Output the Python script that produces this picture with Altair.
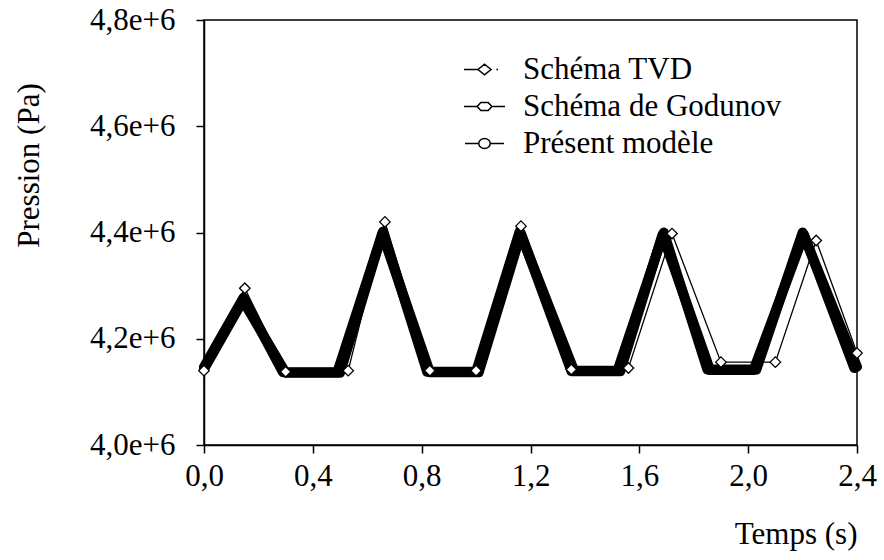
import altair as alt
import pandas as pd

# Pressure (Pa) versus time (s) for the three schemes
series_names = ["Schéma TVD", "Schéma de Godunov", "Présent modèle"]

t_tvd = [0.00, 0.15, 0.30, 0.53, 0.665, 0.83, 1.00, 1.165, 1.35, 1.56, 1.72, 1.90, 2.10, 2.25, 2.40]
p_tvd = [4.140e6, 4.295e6, 4.138e6, 4.140e6, 4.420e6, 4.140e6, 4.140e6, 4.412e6, 4.142e6,
         4.145e6, 4.398e6, 4.156e6, 4.156e6, 4.385e6, 4.173e6]

t_god = [0.00, 0.145, 0.29, 0.49, 0.658, 0.82, 1.00, 1.16, 1.36, 1.52, 1.69, 1.85, 2.03, 2.20, 2.40]
p_god = [4.147e6, 4.277e6, 4.137e6, 4.137e6, 4.402e6, 4.138e6, 4.138e6, 4.402e6, 4.140e6,
         4.140e6, 4.400e6, 4.142e6, 4.142e6, 4.400e6, 4.147e6]

t_pm = [0.00, 0.143, 0.30, 0.50, 0.655, 0.83, 1.01, 1.165, 1.35, 1.53, 1.685, 1.86, 2.02, 2.205, 2.39]
p_pm = [4.143e6, 4.272e6, 4.136e6, 4.136e6, 4.398e6, 4.137e6, 4.137e6, 4.398e6, 4.139e6,
        4.139e6, 4.396e6, 4.141e6, 4.141e6, 4.396e6, 4.145e6]

x_ticks = [0.0, 0.4, 0.8, 1.2, 1.6, 2.0, 2.4]
y_ticks = [4.0e6, 4.2e6, 4.4e6, 4.6e6, 4.8e6]

frames = []
for name, ts, ps in zip(series_names, [t_tvd, t_god, t_pm], [p_tvd, p_god, p_pm]):
    frames.append(pd.DataFrame({"t": ts, "p": ps, "serie": name, "ordre": range(len(ts))}))
df = pd.concat(frames, ignore_index=True)

FONT = "Liberation Serif"
FS = 31

x_enc = alt.X(
    "t:Q",
    scale=alt.Scale(domain=[0, 2.4], nice=False, zero=False),
    axis=alt.Axis(
        values=x_ticks,
        labelExpr="replace(format(datum.value, '.1f'), '.', ',')",
        labelFlush=False,
        labelPadding=8,
        title="Temps (s)",
        titleX=653,
        titleY=98,
        titleAlign="right",
        titleBaseline="alphabetic",
    ),
)
y_enc = alt.Y(
    "p:Q",
    scale=alt.Scale(domain=[4.0e6, 4.8e6], nice=False, zero=False),
    axis=alt.Axis(
        values=y_ticks,
        labelExpr="replace(format(datum.value / 1e6, '.1f'), '.', ',') + 'e+6'",
        labelFlush=False,
        labelPadding=21,
        title="Pression (Pa)",
        titleAngle=-90,
        titleX=-175,
        titleY=145,
        titleAlign="center",
        titleBaseline="middle",
    ),
)

base = alt.Chart(df)

dense_god = base.transform_filter(alt.datum.serie == "Schéma de Godunov").mark_line(
    color="black", strokeWidth=10, strokeJoin="round", strokeCap="round"
).encode(x=x_enc, y=y_enc, order="ordre:Q")

dense_pm = base.transform_filter(alt.datum.serie == "Présent modèle").mark_line(
    color="black", strokeWidth=10, strokeJoin="round", strokeCap="round"
).encode(x=x_enc, y=y_enc, order="ordre:Q")

tvd_line = base.transform_filter(alt.datum.serie == "Schéma TVD").mark_line(
    color="black", strokeWidth=1.3
).encode(x=x_enc, y=y_enc, order="ordre:Q")

tvd_pts = base.transform_filter(alt.datum.serie == "Schéma TVD").mark_point(
    shape="diamond", filled=True, fill="white", stroke="black", strokeWidth=1.3, size=110, opacity=1
).encode(x=x_enc, y=y_enc)

# Legend symbols: line with the series marker in the middle
path_tvd = "M-1,0L-0.32,0M-0.32,0L0,-0.26L0.32,0L0,0.26Z M0.58,0L0.66,0"
path_god = "M-1,0L-0.36,0M0.36,0L1,0M-0.36,0L-0.18,-0.2L0.18,-0.2L0.36,0L0.18,0.2L-0.18,0.2Z"
path_pm = "M-0.95,0L-0.28,0M0.28,0L0.95,0M-0.28,0A0.28,0.24 0 1,0 0.28,0A0.28,0.24 0 1,0 -0.28,0Z"

legend_layer = base.transform_filter("datum.t < 0").mark_point(
    filled=False, color="black", strokeWidth=1.5, opacity=1
).encode(
    x=x_enc,
    y=y_enc,
    shape=alt.Shape(
        "serie:N",
        scale=alt.Scale(domain=series_names, range=[path_tvd, path_god, path_pm]),
        legend=alt.Legend(
            title=None,
            orient="none",
            legendX=259,
            legendY=28,
            padding=0,
            rowPadding=-6,
            symbolSize=1681,
            symbolStrokeColor="black",
            symbolStrokeWidth=1.5,
            symbolOpacity=1,
            labelFont=FONT,
            labelFontSize=FS,
            labelColor="black",
            labelOffset=17,
            labelLimit=600,
        ),
    ),
)

chart = (
    alt.layer(dense_god, dense_pm, tvd_line, tvd_pts, legend_layer)
    .properties(
        width=653,
        height=425,
        autosize=alt.AutoSizeParams(type="none"),
        padding={"left": 204, "top": 20, "right": 27, "bottom": 115},
        background="white",
    )
    .configure_view(stroke="black", strokeWidth=1.5)
    .configure_axis(
        grid=False,
        domainColor="black",
        domainWidth=1.5,
        tickColor="black",
        tickWidth=1.5,
        tickSize=8,
        labelFont=FONT,
        labelFontSize=FS,
        labelColor="black",
        titleFont=FONT,
        titleFontSize=FS,
        titleFontWeight="normal",
        titleColor="black",
    )
)

chart.save("out.html", embed_options={"renderer": "svg", "actions": False})
